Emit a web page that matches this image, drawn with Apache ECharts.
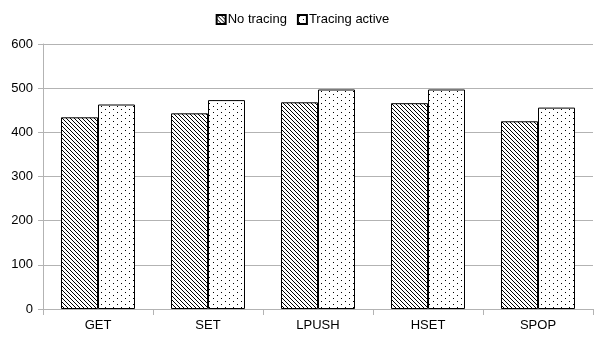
<!DOCTYPE html>
<html>
<head>
<meta charset="utf-8">
<script src="https://cdn.jsdelivr.net/npm/echarts@6/dist/echarts.min.js"></script>
<style>
  html, body { margin: 0; padding: 0; background: #fff; }
  #chart { width: 605px; height: 341px; }
</style>
</head>
<body>
<div id="chart"></div>
<script>
// data
const categories = ["GET", "SET", "LPUSH", "HSET", "SPOP"];
const noTracing = [434, 443, 468, 466, 425];
const tracingActive = [463, 473, 497, 497, 456];
const yTicks = { min: 0, max: 600, interval: 100 };

// hatch patterns drawn on small canvases
function hatchTile() {
  const c = document.createElement("canvas");
  c.width = 4; c.height = 4;
  const ctx = c.getContext("2d");
  ctx.fillStyle = "#fff";
  ctx.fillRect(0, 0, 4, 4);
  ctx.fillStyle = "#000";
  for (let i = 0; i < 4; i++) ctx.fillRect(i, i, 1, 1);
  return c;
}
function dotTile() {
  // staggered dots
  const c = document.createElement("canvas");
  c.width = 8; c.height = 6;
  const ctx = c.getContext("2d");
  ctx.fillStyle = "#fff";
  ctx.fillRect(0, 0, 8, 6);
  ctx.fillStyle = "#000";
  ctx.fillRect(1, 1, 1, 1);
  ctx.fillRect(5, 4, 1, 1);
  return c;
}

const chart = echarts.init(document.getElementById("chart"), null, { renderer: "canvas" });
const font = "Liberation Sans, Arial, sans-serif";

chart.setOption({
  animation: false,
  textStyle: { fontFamily: font },
  legend: {
    top: 8,
    left: "center",
    itemWidth: 9,
    itemHeight: 9,
    itemGap: 10,
    icon: "rect",
    textStyle: { fontSize: 13, color: "#000", fontFamily: font, padding: [0, 0, 0, -3] },
    data: ["No tracing", "Tracing active"]
  },
  grid: { left: 43, right: 12, top: 44, bottom: 32 },
  xAxis: {
    type: "category",
    data: categories,
    axisLine: { lineStyle: { color: "#b3b3b3" } },
    axisTick: { show: true, length: 6, lineStyle: { color: "#b3b3b3" } },
    axisLabel: { color: "#000", fontSize: 13, margin: 10, fontFamily: font }
  },
  yAxis: {
    type: "value",
    min: yTicks.min,
    max: yTicks.max,
    interval: yTicks.interval,
    axisLine: { show: true, lineStyle: { color: "#b3b3b3" } },
    axisTick: { show: true, length: 5, lineStyle: { color: "#b3b3b3" } },
    splitLine: { lineStyle: { color: "#b3b3b3" } },
    axisLabel: { color: "#000", fontSize: 13, margin: 10, fontFamily: font }
  },
  series: [
    {
      name: "No tracing",
      type: "bar",
      data: noTracing,
      barWidth: 37,
      barGap: "0%",
      itemStyle: {
        color: { image: hatchTile(), repeat: "repeat" },
        borderColor: "#000",
        borderWidth: 1
      }
    },
    {
      name: "Tracing active",
      type: "bar",
      data: tracingActive,
      barWidth: 37,
      barGap: "0%",
      itemStyle: {
        color: { image: dotTile(), repeat: "repeat" },
        borderColor: "#000",
        borderWidth: 1
      }
    }
  ]
});
</script>
</body>
</html>
